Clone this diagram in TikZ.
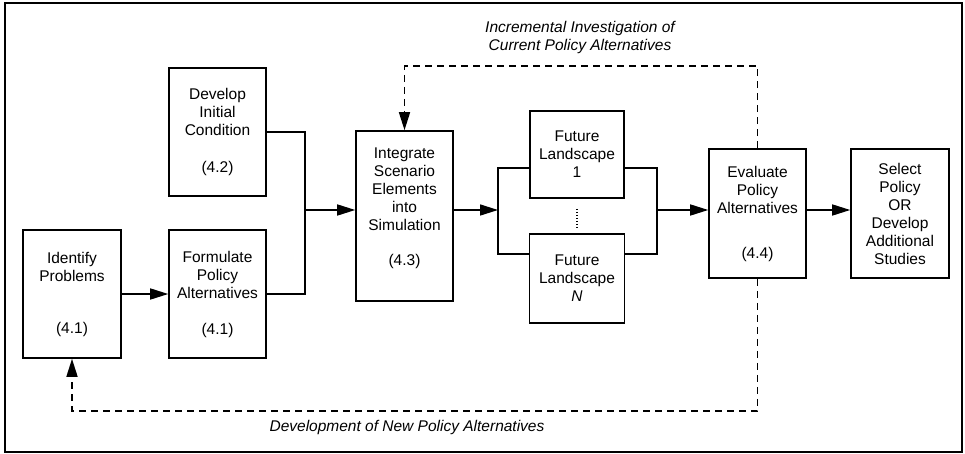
\documentclass[tikz,border=0pt]{standalone}
\usepackage{fontspec}
\setmainfont{Liberation Sans}
\usetikzlibrary{arrows.meta}

\begin{document}
\begin{tikzpicture}
  [x=1pt,y=-1pt,line width=1.6pt,font=\fontsize{15.5}{18}\selectfont,
   >={Triangle[length=18pt,width=11pt]}]
  \tikzstyle{box} = [draw,shape=rectangle,align=center,inner sep=2pt]
  \tikzstyle{note} = [align=center,font=\fontsize{15.5}{18}\selectfont\itshape]
  \tikzstyle{dashline} = [dash pattern=on 7pt off 5pt]
  \useasboundingbox (0,0) rectangle (965,454);
  \draw (5,3) rectangle (962,452);
  \node[box,minimum width=98pt,minimum height=128pt] (ident) at (72,294) {Identify\\Problems\\[34pt](4.1)};
  \node[box,minimum width=97pt,minimum height=128pt] (formul) at (217.5,294) {Formulate\\Policy\\Alternatives\\[18pt](4.1)};
  \node[box,minimum width=97pt,minimum height=128pt] (devinit) at (217.5,132) {Develop\\Initial\\Condition\\[19pt](4.2)};
  \node[box,minimum width=97pt,minimum height=170pt] (integ) at (404.5,216) {Integrate\\Scenario\\Elements\\into\\Simulation\\[17pt](4.3)\\ \mbox{}};
  \node[box,minimum width=94pt,minimum height=87pt] (land1) at (577,154.5) {Future\\Landscape\\1};
  \node[box,minimum width=95pt,minimum height=89pt] (landN) at (577,278.5) {Future\\Landscape\\\textit{N}};
  \node[box,minimum width=97pt,minimum height=129pt] (evalp) at (757.5,213.5) {Evaluate\\Policy\\Alternatives\\[27pt](4.4)};
  \node[box,minimum width=98pt,minimum height=129pt] (selpol) at (900,213.5) {Select\\Policy\\OR\\Develop\\Additional\\Studies};
  \coordinate (merge) at (305,210);
  \coordinate (split) at (498,210);
  \coordinate (join) at (657,210);
  \coordinate (upper) at (0,168);
  \coordinate (lower) at (0,254);
  \coordinate (topline) at (0,66);
  \coordinate (botline) at (0,411);
  % main flow
  \draw[->] (ident.east) -- (formul.west);
  \draw (devinit.east) -| (merge) |- (formul.east);
  \draw[->] (merge) -- (merge -| integ.west);
  \draw[->] (merge -| integ.east) -- (split);
  \draw (upper -| land1.west) -| (split) |- (lower -| landN.west);
  \draw (upper -| land1.east) -| (join) |- (lower -| landN.east);
  \draw[->] (join) -- (join -| evalp.west);
  \draw[->] (join -| evalp.east) -- (join -| selpol.west);
  \draw[line width=1.2pt,dash pattern=on 1.5pt off 1.5pt] ([yshift=-10pt]land1.south) -- ([yshift=6pt]landN.north);
  % feedback loops
  \draw[dashline,->] (evalp.north) -- (evalp.north |- topline) -- (integ.north |- topline) -- (integ.north);
  \draw[dashline,->] (evalp.south) -- (evalp.south |- botline) -- (ident.south |- botline) -- (ident.south);
  \node[note] (inclabel) at (580,37) {Incremental Investigation of\\Current Policy Alternatives};
  \node[note] (devlabel) at (407,427) {Development of New Policy Alternatives};
\end{tikzpicture}
\end{document}
